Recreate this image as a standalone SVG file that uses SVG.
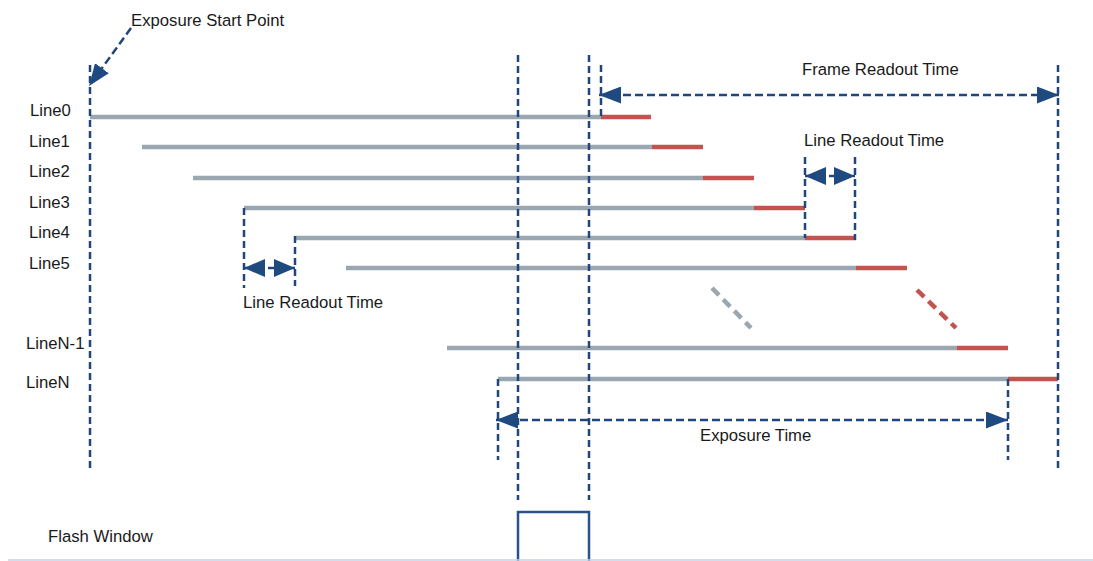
<svg xmlns="http://www.w3.org/2000/svg" width="1093" height="561" viewBox="0 0 1093 561">
<style>
  .txt{font-family:"Liberation Sans",Arial,sans-serif;font-size:16.7px;fill:#1a1a1a}
  .vd{stroke:#21467b;stroke-width:2.5;stroke-dasharray:7,4;fill:none}
  .hd{stroke:#21467b;stroke-width:2.5;stroke-dasharray:8,4;fill:none}
  .exp{stroke:#9ba7b0;stroke-width:4.5;fill:none}
  .rd{stroke:#c4524f;stroke-width:4.5;fill:none}
</style>
<defs>
  <marker id="ah" viewBox="0 0 22 17" refX="22" refY="8.5" markerWidth="22" markerHeight="17" markerUnits="userSpaceOnUse" orient="auto-start-reverse">
    <path d="M0,0 L22,8.5 L0,17 z" fill="#1f4a80"/>
  </marker>
  <marker id="ahs" viewBox="0 0 21 18" refX="21" refY="9" markerWidth="21" markerHeight="18" markerUnits="userSpaceOnUse" orient="auto-start-reverse">
    <path d="M0,0 L21,9 L0,18 z" fill="#1f4a80"/>
  </marker>
</defs>
<rect width="1093" height="561" fill="#ffffff"/>

<g id="labels">
  <text class="txt" x="30" y="116">Line0</text>
  <text class="txt" x="29" y="147">Line1</text>
  <text class="txt" x="29" y="177">Line2</text>
  <text class="txt" x="29" y="208">Line3</text>
  <text class="txt" x="29" y="238">Line4</text>
  <text class="txt" x="29" y="269">Line5</text>
  <text class="txt" x="26" y="349">LineN-1</text>
  <text class="txt" x="26" y="388">LineN</text>
  <text class="txt" x="48" y="542">Flash Window</text>
</g>

<g id="exposure-lines">
  <line class="exp" x1="90" y1="117" x2="601" y2="117"/>
  <line class="rd" x1="601" y1="117" x2="651" y2="117"/>
  <line class="exp" x1="142" y1="147" x2="652" y2="147"/>
  <line class="rd" x1="652" y1="147" x2="703" y2="147"/>
  <line class="exp" x1="193" y1="178" x2="703" y2="178"/>
  <line class="rd" x1="703" y1="178" x2="754" y2="178"/>
  <line class="exp" x1="244" y1="208" x2="754" y2="208"/>
  <line class="rd" x1="754" y1="208" x2="805" y2="208"/>
  <line class="exp" x1="295" y1="238" x2="805" y2="238"/>
  <line class="rd" x1="805" y1="238" x2="856" y2="238"/>
  <line class="exp" x1="346" y1="268" x2="856" y2="268"/>
  <line class="rd" x1="856" y1="268" x2="907" y2="268"/>
  <line class="exp" x1="447" y1="348" x2="957" y2="348"/>
  <line class="rd" x1="957" y1="348" x2="1008" y2="348"/>
  <line class="exp" x1="498" y1="379" x2="1008" y2="379"/>
  <line class="rd" x1="1008" y1="379" x2="1058" y2="379"/>
  <line class="exp" x1="712" y1="288" x2="751" y2="328" stroke-width="5" stroke-dasharray="10,6"/>
  <line class="rd" x1="917" y1="290" x2="956" y2="328" stroke-width="5" stroke-dasharray="10,6"/>
</g>

<g id="connectors">
  <line class="vd" x1="90" y1="65" x2="90" y2="470"/>
  <line class="vd" x1="518" y1="55" x2="518" y2="500"/>
  <line class="vd" x1="589" y1="55" x2="589" y2="500"/>
  <line class="vd" x1="601" y1="65" x2="601" y2="117"/>
  <line class="vd" x1="1058" y1="65" x2="1058" y2="470"/>
  <line class="vd" x1="805" y1="157" x2="805" y2="238"/>
  <line class="vd" x1="855" y1="157" x2="855" y2="240"/>
  <line class="vd" x1="244" y1="208" x2="244" y2="288"/>
  <line class="vd" x1="295" y1="236" x2="295" y2="286"/>
  <line class="vd" x1="498" y1="379" x2="498" y2="460"/>
  <line class="vd" x1="1008" y1="379" x2="1008" y2="460"/>

  <line class="hd" x1="599" y1="95" x2="1059" y2="95" marker-start="url(#ah)" marker-end="url(#ah)"/>
  <line class="hd" x1="805" y1="176" x2="855" y2="176" marker-start="url(#ahs)" marker-end="url(#ahs)"/>
  <line class="hd" x1="244" y1="268" x2="295" y2="268" marker-start="url(#ahs)" marker-end="url(#ahs)"/>
  <line class="hd" x1="496" y1="420" x2="1008" y2="420" marker-start="url(#ah)" marker-end="url(#ah)"/>
  <line class="hd" x1="131" y1="28" x2="89" y2="86" marker-end="url(#ah)"/>
</g>

<g id="annotations">
  <text class="txt" x="131" y="26">Exposure Start Point</text>
  <text class="txt" x="802" y="75">Frame Readout Time</text>
  <text class="txt" x="804" y="146">Line Readout Time</text>
  <text class="txt" x="243" y="308">Line Readout Time</text>
  <text class="txt" x="700" y="441">Exposure Time</text>
</g>

<g id="flash-window">
  <path d="M518,561 L518,512 L589,512 L589,561" fill="none" stroke="#2a5289" stroke-width="2.5"/>
</g>
<line x1="8" y1="560" x2="1093" y2="560" stroke="#c3d3e8" stroke-width="1.5"/>
</svg>
